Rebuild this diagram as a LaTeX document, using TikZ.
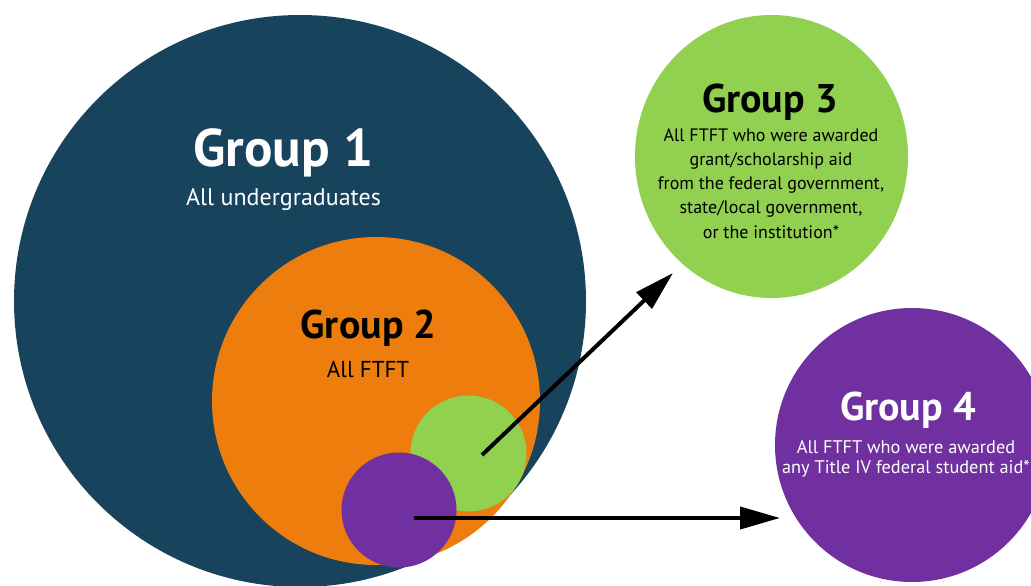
\documentclass[tikz,border=0pt]{standalone}
\usepackage{fontspec}
\setmainfont{PT Sans}
\usetikzlibrary{arrows.meta,shapes.geometric}
\definecolor{navy}{RGB}{23,67,92}
\definecolor{orng}{RGB}{237,125,12}
\definecolor{lgreen}{RGB}{146,208,80}
\definecolor{purp}{RGB}{112,48,160}
\begin{document}
\begin{tikzpicture}[x=1pt,y=-1pt,
  disc/.style={circle,inner sep=0pt,draw=none},
  bigtitle/.style={font=\bfseries\fontsize{53}{56}\selectfont,anchor=base,inner sep=0pt},
  grptitle/.style={font=\bfseries\fontsize{40}{44}\selectfont,anchor=base,inner sep=0pt},
  subtext/.style={font=\fontsize{24}{27}\selectfont,anchor=base,inner sep=0pt},
  subtextb/.style={font=\fontsize{23}{26}\selectfont,anchor=base,inner sep=0pt},
  bodytext/.style={font=\fontsize{18}{24.2}\selectfont,anchor=base,inner sep=0pt,align=center},
  bodytextb/.style={font=\fontsize{18.3}{20}\selectfont,anchor=base,inner sep=0pt,align=center},
  arr/.style={line width=4pt,-{Triangle[length=40pt,width=22pt]}}
]
\useasboundingbox (0,0) rectangle (1031,586);
\clip (0,0) rectangle (1031,586);
% circles
\node[disc,fill=navy,minimum size=572pt] (g1) at (300,301) {};
\node[disc,fill=orng,minimum size=328pt] (g2) at (376,401) {};
\node[disc,fill=lgreen,minimum size=116pt] (g3s) at (468.5,453.5) {};
\node[disc,fill=purp,minimum size=115pt] (g4s) at (399,510) {};
\node[ellipse,inner sep=0pt,fill=lgreen,minimum width=273pt,minimum height=283pt] (g3) at (771.5,156.5) {};
\node[disc,fill=purp,minimum size=274pt] (g4) at (912,445) {};
% arrows
\coordinate (s3) at (482,455);
\coordinate (t3) at (673,273);
\coordinate (s4) at (414,518);
\coordinate (t4) at (780,518);
\draw[arr] (s3) -- (t3);
\draw[arr] (s4) -- (t4);
% texts
\node[bigtitle,text=white] (g1t) at (283.5,166) {Group 1};
\node[subtext,text=white] (g1b) at (283.5,205) {All undergraduates};
\node[grptitle,text=black] (g2t) at (368.5,338) {Group 2};
\node[subtextb,text=black] (g2b) at (368,377) {All FTFT};
\node[grptitle,text=black] (g3t) at (770,113) {Group 3};
\node[bodytext,text=black] (g3b) at (771,238) {All FTFT who were awarded\\grant/scholarship aid\\from the federal government,\\state/local government,\\or the institution*};
\node[grptitle,text=white] (g4t) at (908,420) {Group 4};
\node[bodytextb,text=white] (g4b) at (906,473) {All FTFT who were awarded\\any Title IV federal student aid*};
\end{tikzpicture}
\end{document}
